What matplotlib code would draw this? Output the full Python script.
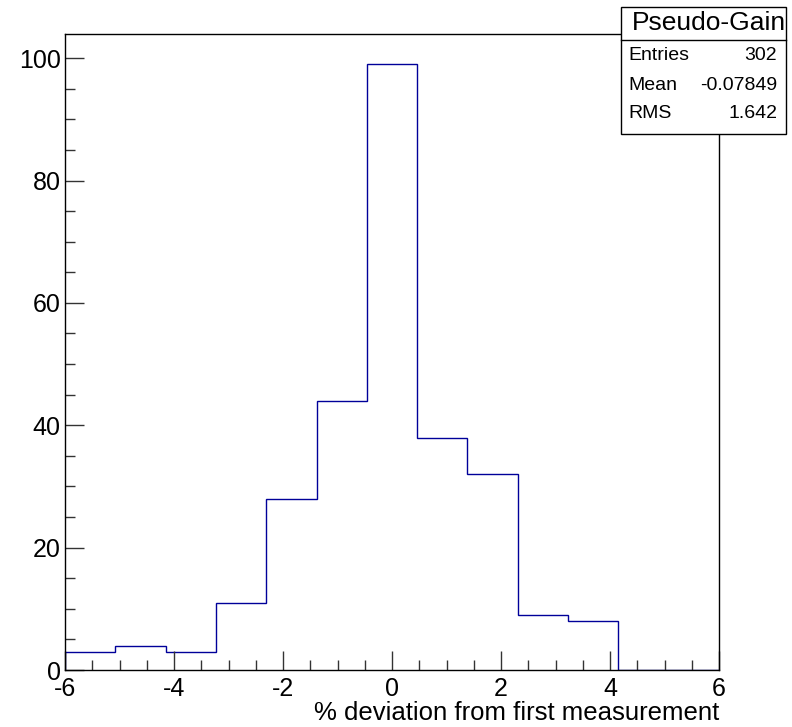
import matplotlib.pyplot as plt
import numpy as np
from matplotlib.patches import Rectangle
from matplotlib.lines import Line2D
from matplotlib.ticker import MultipleLocator

plt.rcParams['font.family'] = ['Liberation Sans', 'DejaVu Sans']
plt.rcParams['axes.unicode_minus'] = False

# histogram data (13 bins from -6 to 6)
bin_lo, bin_hi, n_bins = -6.0, 6.0, 13
counts = [3, 4, 3, 11, 28, 44, 99, 38, 32, 9, 8, 0, 0]
hist_title = 'Pseudo-Gain'
stat_names = ['Entries', 'Mean', 'RMS']
stat_values = ['302', '-0.07849', '1.642']
x_label = '% deviation from first measurement'

W, H = 792, 727
fig = plt.figure(figsize=(W / 100, H / 100), dpi=100)

# frame in pixels: left 65, right 719, top 34, bottom 670
ax = fig.add_axes([65 / W, 1 - 670 / H, (719 - 65) / W, (670 - 34) / H])

edges = np.linspace(bin_lo, bin_hi, n_bins + 1)
ax.stairs(counts, edges, color='#000099', lw=1.0)

ax.set_xlim(-6, 6)
ax.set_ylim(0, max(counts) * 1.05)

ax.xaxis.set_major_locator(MultipleLocator(2))
ax.xaxis.set_minor_locator(MultipleLocator(0.5))
ax.yaxis.set_major_locator(MultipleLocator(20))
ax.yaxis.set_minor_locator(MultipleLocator(5))
ax.tick_params(which='both', direction='in', top=False, right=False,
               labelsize=18, width=1.0, color='#333333')
ax.tick_params(which='major', length=14)
ax.tick_params(which='minor', length=7)
ax.tick_params(axis='x', which='major', pad=5)
ax.tick_params(axis='y', which='major', pad=3)
for s in ax.spines.values():
    s.set_linewidth(1.0)

ax.set_xlabel(x_label, fontsize=18.5, loc='right', labelpad=0)

# stats box (pixels: x 621-786, y 7-134, title line at 40)
bx0, bx1, by0, by1, bsep = 621, 786, 7, 134, 40
fig.patches.append(Rectangle((bx0 / W, 1 - by1 / H), (bx1 - bx0) / W, (by1 - by0) / H,
                             transform=fig.transFigure, facecolor='white',
                             edgecolor='black', lw=1.0, zorder=5))
fig.lines.append(Line2D([bx0 / W, bx1 / W], [1 - bsep / H, 1 - bsep / H],
                        transform=fig.transFigure, color='black', lw=1.0, zorder=6))
fig.text((bx0 + bx1) / 2 / W + 5 / W, 1 - (by0 + bsep) / 2 / H, hist_title, fontsize=19,
         ha='center', va='center', zorder=7)
row_y = [55, 85, 114]
for name, val, yy in zip(stat_names, stat_values, row_y):
    fig.text((bx0 + 7) / W, 1 - yy / H, name, fontsize=14, ha='left', va='center', zorder=7)
    fig.text((bx1 - 9) / W, 1 - yy / H, val, fontsize=14, ha='right', va='center', zorder=7)

fig.savefig('out.png', dpi=100)
